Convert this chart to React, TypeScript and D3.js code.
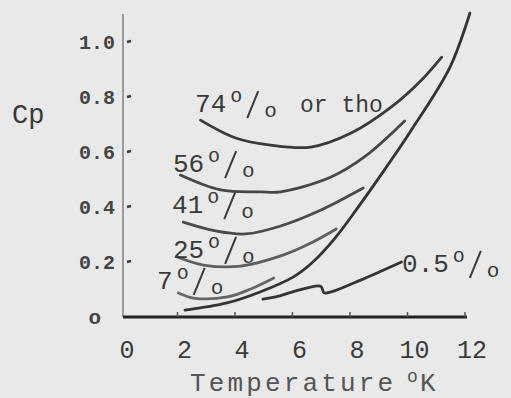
import React, { useEffect, useRef } from "react";
import * as d3 from "d3";

// x ticks (temperature, K) and y ticks (Cp)
const xTicks = [0, 2, 4, 6, 8, 10, 12];
const yTicks = [0, 0.2, 0.4, 0.6, 0.8, 1.0];
const yTickLabels = ["o", "0.2", "0.4", "0.6", "0.8", "1.0"];

// curves: [T, Cp]
const ortho74: [number, number][] = [
  [2.8, 0.716], [4.02, 0.651], [5.24, 0.625], [6.64, 0.618],
  [8.04, 0.669], [9.44, 0.764], [10.49, 0.862], [11.19, 0.945],
];
const ortho56: [number, number][] = [
  [2.1, 0.516], [3.5, 0.462], [4.9, 0.455], [5.59, 0.455],
  [7.34, 0.509], [8.5, 0.582], [9.9, 0.713],
];
const ortho41: [number, number][] = [
  [2.2, 0.345], [3.32, 0.313], [4.37, 0.302], [5.59, 0.331],
  [6.99, 0.389], [8.46, 0.469],
];
const ortho25: [number, number][] = [
  [1.99, 0.218], [2.9, 0.189], [4.2, 0.185], [5.59, 0.222],
  [6.64, 0.269], [7.52, 0.32],
];
const ortho7: [number, number][] = [
  [2.03, 0.087], [2.55, 0.069], [3.74, 0.073], [4.55, 0.102], [5.35, 0.142],
];
const ortho05: [number, number][] = [
  [4.97, 0.065], [5.42, 0.073], [6.12, 0.095], [6.89, 0.113], [7.0, 0.11],
  [7.1, 0.088], [7.34, 0.091], [8.39, 0.135], [9.79, 0.2],
];
const steep: [number, number][] = [
  [2.26, 0.025], [3.72, 0.051], [4.87, 0.091], [6.02, 0.145], [6.71, 0.2],
  [7.48, 0.287], [8.24, 0.393], [9.39, 0.564], [10.09, 0.673], [11.48, 0.909],
  [12.17, 1.105],
];

const curves = [
  { data: ortho74, color: "#3a3a3a" },
  { data: ortho56, color: "#474747" },
  { data: ortho41, color: "#4a4a4a" },
  { data: ortho25, color: "#5e5e5e" },
  { data: ortho7, color: "#666" },
  { data: ortho05, color: "#333" },
  { data: steep, color: "#333" },
];

// percent labels: number, anchor [T, Cp] of the number's left baseline
const pctLabels = ["74", "56", "41", "25", "7", "0.5"];
const pctAnchors: [number, number][] = [
  [2.61, 0.745], [1.84, 0.527], [1.81, 0.378], [1.84, 0.215], [1.29, 0.102], [9.81, 0.164],
];

const FONT = "'Liberation Mono', 'DejaVu Sans Mono', monospace";
const INK = "#3a3a3a";

export default function App() {
  const ref = useRef<SVGSVGElement>(null);

  useEffect(() => {
    const W = 511, H = 398;
    const svg = d3.select(ref.current).attr("width", W).attr("height", H);
    svg.selectAll("*").remove();

    svg.append("rect").attr("width", W).attr("height", H).attr("fill", "#e9e9e9");

    const x = d3.scaleLinear().domain([0, 12]).range([120, 465]);
    const y = d3.scaleLinear().domain([0, 1]).range([317, 42]);

    // y axis line
    svg.append("line")
      .attr("x1", 123).attr("x2", 123).attr("y1", 14).attr("y2", y(0))
      .attr("stroke", "#808080").attr("stroke-width", 1.5);

    // y ticks + labels
    yTicks.forEach((t, i) => {
      if (t > 0) {
        svg.append("line")
          .attr("x1", 127).attr("x2", 131).attr("y1", y(t)).attr("y2", y(t) - 1)
          .attr("stroke", INK).attr("stroke-width", 2.5);
      }
      svg.append("text")
        .attr("x", t === 0 ? 101 : 115).attr("y", y(t) + 7)
        .attr("text-anchor", "end")
        .attr("font-family", FONT).attr("font-size", t === 0 ? 21 : 20)
        .attr("font-weight", "bold")
        .attr("fill", "#444")
        .text(yTickLabels[i]);
    });

    // x axis
    svg.append("line")
      .attr("x1", 123).attr("x2", x(12) + 2).attr("y1", y(0)).attr("y2", y(0))
      .attr("stroke", "#222").attr("stroke-width", 3);
    xTicks.forEach((t) => {
      if (t > 0) {
        svg.append("line")
          .attr("x1", x(t)).attr("x2", x(t)).attr("y1", y(0)).attr("y2", y(0) - 5)
          .attr("stroke", "#555").attr("stroke-width", 1.5);
      }
      svg.append("text")
        .attr("x", x(t) + 7).attr("y", 358)
        .attr("text-anchor", "middle")
        .attr("font-family", FONT).attr("font-size", 25)
        .attr("fill", INK)
        .text(String(t));
    });

    // axis titles
    svg.append("text")
      .attr("x", 12).attr("y", 123)
      .attr("font-family", FONT).attr("font-size", 27).attr("fill", INK)
      .text("Cp");
    svg.append("text")
      .attr("x", 190).attr("y", 391)
      .attr("font-family", FONT).attr("font-size", 26).attr("fill", "#555")
      .attr("textLength", 203).attr("lengthAdjust", "spacing")
      .text("Temperature");
    svg.append("text")
      .attr("x", 407).attr("y", 382)
      .attr("font-family", FONT).attr("font-size", 18).attr("fill", "#555")
      .text("o");
    svg.append("text")
      .attr("x", 420).attr("y", 391)
      .attr("font-family", FONT).attr("font-size", 26).attr("fill", "#555")
      .text("K");

    // curves
    const line = d3.line<[number, number]>()
      .x((d) => x(d[0])).y((d) => y(d[1]))
      .curve(d3.curveCatmullRom.alpha(0.5));
    curves.forEach((c) => {
      svg.append("path")
        .attr("d", line(c.data))
        .attr("fill", "none")
        .attr("stroke", c.color)
        .attr("stroke-width", 2.8)
        .attr("stroke-linecap", "round");
    });

    // percent labels
    pctLabels.forEach((lab, i) => {
      const [tx, ty] = pctAnchors[i];
      const X = x(tx), B = y(ty);
      const E = X + lab.length * 15.6;
      const g = svg.append("g").attr("fill", INK).attr("font-family", FONT);
      g.append("text").attr("x", X).attr("y", B).attr("font-size", 26).text(lab);
      g.append("text").attr("x", E + 4).attr("y", B - 10).attr("font-size", 20).text("o");
      g.append("line")
        .attr("x1", E + 32).attr("y1", B - 21).attr("x2", E + 21).attr("y2", B + 6)
        .attr("stroke", INK).attr("stroke-width", 2);
      g.append("text").attr("x", E + 38).attr("y", B + 5).attr("font-size", 21).text("o");
    });

    svg.append("text")
      .attr("x", 300).attr("y", 112)
      .attr("font-family", FONT).attr("font-size", 23).attr("fill", INK)
      .text("or tho");
  }, []);

  return (
    <div style={{ position: "fixed", left: 0, top: 0 }}>
      <svg ref={ref} style={{ display: "block" }} />
    </div>
  );
}
